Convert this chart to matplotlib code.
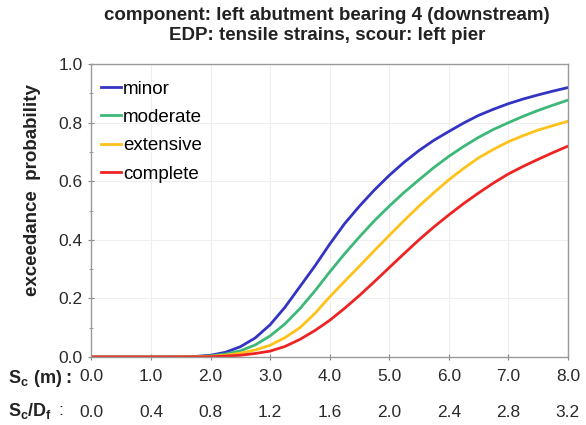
import numpy as np
import matplotlib
matplotlib.use('Agg')
import matplotlib.pyplot as plt

plt.rcParams['font.family'] = ['Liberation Sans', 'DejaVu Sans']
plt.rcParams['mathtext.fontset'] = 'custom'
plt.rcParams['mathtext.rm'] = 'Liberation Sans'
plt.rcParams['mathtext.bf'] = 'Liberation Sans:bold'

# scour depth (m) and exceedance probabilities per damage state
scour = [0.0, 0.5, 1.0, 1.5, 1.75, 2.0, 2.25, 2.5, 2.75, 3.0, 3.25, 3.5, 3.75, 4.0, 4.25,
         4.5, 4.75, 5.0, 5.25, 5.5, 5.75, 6.0, 6.25, 6.5, 6.75, 7.0, 7.25, 7.5, 7.75, 8.0]
p_minor = [0.0, 0.0, 0.0, 0.0005, 0.002, 0.006, 0.016, 0.035, 0.065, 0.11, 0.17, 0.24, 0.31, 0.385, 0.455,
           0.515, 0.57, 0.62, 0.665, 0.705, 0.74, 0.77, 0.799, 0.825, 0.846, 0.865, 0.881, 0.895, 0.908, 0.92]
p_moderate = [0.0, 0.0, 0.0, 0.0003, 0.001, 0.004, 0.01, 0.021, 0.041, 0.072, 0.113, 0.165, 0.225, 0.29, 0.352,
              0.41, 0.465, 0.515, 0.562, 0.605, 0.647, 0.685, 0.719, 0.75, 0.777, 0.80, 0.822, 0.842, 0.86, 0.877]
p_extensive = [0.0, 0.0, 0.0, 0.0002, 0.0006, 0.002, 0.006, 0.013, 0.024, 0.04, 0.066, 0.10, 0.148, 0.205, 0.258,
               0.31, 0.363, 0.415, 0.466, 0.515, 0.561, 0.605, 0.644, 0.68, 0.709, 0.735, 0.756, 0.775, 0.79, 0.805]
p_complete = [0.0, 0.0, 0.0, 0.0, 0.0003, 0.001, 0.003, 0.006, 0.012, 0.02, 0.036, 0.06, 0.09, 0.125, 0.166,
              0.21, 0.257, 0.305, 0.353, 0.40, 0.444, 0.485, 0.524, 0.56, 0.594, 0.625, 0.651, 0.675, 0.698, 0.72]

labels = ['minor', 'moderate', 'extensive', 'complete']
colors = ['#3333c4', '#3cb878', '#ffc21a', '#ee2424']
found_depth = 2.5  # Sc/Df scale factor: 1/2.5 = 0.4

fig = plt.figure(figsize=(5.86, 4.25), dpi=100)
ax = fig.add_axes([0.156, 0.16, 0.813, 0.689])

for p, lab, col in zip([p_minor, p_moderate, p_extensive, p_complete], labels, colors):
    ax.plot(scour, p, color=col, lw=2, label=lab)

ax.set_xlim(0, 8)
ax.set_ylim(0, 1)
ax.set_xticks(np.arange(0, 9, 1))
ax.set_yticks(np.arange(0, 1.01, 0.2))
ax.set_yticks(np.arange(0.1, 1.0, 0.2), minor=True)
ax.xaxis.set_major_formatter('{x:.1f}')
ax.yaxis.set_major_formatter('{x:.1f}')
ax.tick_params(axis='both', which='both', direction='inout', color='#888888',
               labelsize=12.5, labelcolor='#2a2a2a')
ax.tick_params(axis='both', which='major', length=5)
ax.tick_params(axis='y', which='minor', length=3)
ax.tick_params(axis='x', pad=6)
ax.tick_params(axis='y', pad=4)
ax.grid(True, color='#eeeeee', lw=0.8)
ax.set_axisbelow(True)
for s in ax.spines.values():
    s.set_color('#999999')
    s.set_linewidth(1)

ax.set_ylabel('exceedance  probability', fontsize=13.5, fontweight='bold', color='#222222')
ax.yaxis.set_label_coords(-0.105, 0.57)

# second row of x labels: normalised scour depth
sec = ax.secondary_xaxis(-0.15, functions=(lambda x: x / found_depth, lambda x: x * found_depth))
sec.set_xticks(np.arange(0, 3.21, 0.4))
sec.xaxis.set_major_formatter('{x:.1f}')
sec.tick_params(length=0, labelsize=12.5, labelcolor='#2a2a2a', pad=3)
sec.spines['bottom'].set_visible(False)

fig.text(0.014, 0.109, r'$\mathbf{S_c\ (m):}$', fontsize=13, va='center', ha='left', color='#222222')
fig.text(0.014, 0.033, r'$\mathbf{S_c/D_f}$', fontsize=13, va='center', ha='left', color='#222222')
fig.text(0.100, 0.033, ':', fontsize=12.5, va='center', ha='left', color='#222222')

fig.text(0.558, 0.963, 'component: left abutment bearing 4 (downstream)', fontsize=13.5,
         fontweight='bold', ha='center', va='center', color='#222222')
fig.text(0.558, 0.916, 'EDP: tensile strains, scour: left pier', fontsize=13.5,
         fontweight='bold', ha='center', va='center', color='#222222')

ax.legend(loc='upper left', bbox_to_anchor=(0.005, 0.97), frameon=False, fontsize=13.5,
          handlelength=1.07, handletextpad=0.1, labelspacing=0.6, borderaxespad=0)

fig.savefig('out.png', dpi=100)
